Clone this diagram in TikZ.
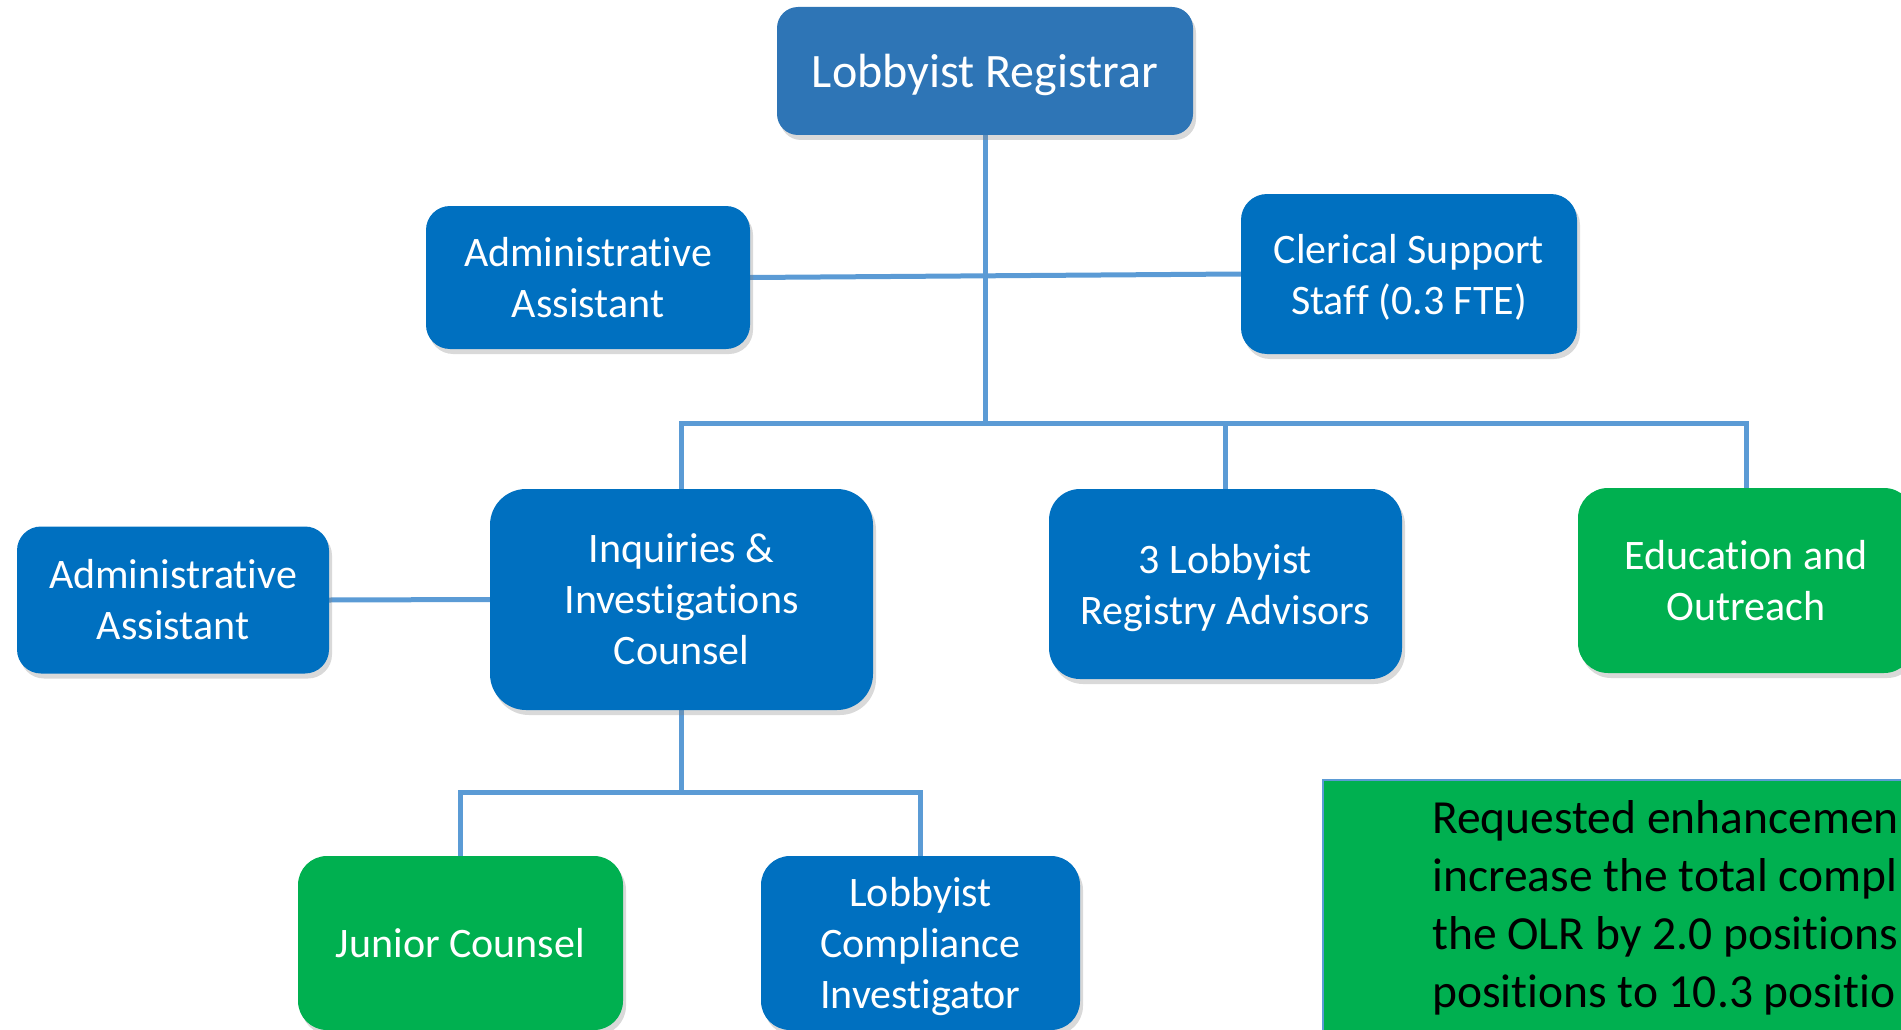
\documentclass[tikz,border=0pt]{standalone}
\usepackage{fontspec}
\setmainfont{Carlito}[RawFeature=-liga]
\usetikzlibrary{shadows,backgrounds}
\definecolor{regblue}{HTML}{2E75B6}
\definecolor{boxblue}{HTML}{0070C0}
\definecolor{boxgreen}{HTML}{00B050}
\definecolor{linkblue}{HTML}{5B9BD5}
\begin{document}
\begin{tikzpicture}[x=1pt,y=-1pt,
  orgbox/.style={text=white, align=center, inner sep=0pt,
    font=\fontsize{42}{51}\selectfont,
    drop shadow={opacity=0.3, shadow xshift=3pt, shadow yshift=-5pt}},
  bluebox/.style={orgbox, fill=boxblue},
  greenbox/.style={orgbox, fill=boxgreen},
  link/.style={draw=linkblue, line width=5pt}]
\useasboundingbox (0,0) rectangle (1901,1030);
\clip (0,0) rectangle (1901,1030);

\node[orgbox, fill=regblue, rounded corners=21pt, minimum width=416pt, minimum height=128pt,
  text depth=0pt, font=\fontsize{48}{58}\selectfont] (reg) at (985,71) {Lobbyist Registrar};
\node[bluebox, rounded corners=24pt, minimum width=324pt, minimum height=143pt] (adm1) at (588,277.5) {Administrative\\Assistant};
\node[bluebox, rounded corners=26pt, minimum width=336pt, minimum height=160pt, text depth=0pt] (cler) at (1409,274) {Clerical Support\\Staff (0.3 FTE)};
\node[bluebox, rounded corners=24pt, minimum width=312pt, minimum height=147pt] (adm2) at (173,600) {Administrative\\Assistant};
\node[bluebox, rounded corners=36pt, minimum width=383pt, minimum height=221pt] (inq) at (681.5,599.5) {Inquiries \&\\Investigations\\Counsel};
\node[bluebox, rounded corners=31pt, minimum width=353pt, minimum height=190pt, text depth=0pt] (adv) at (1225.5,584) {3 Lobbyist\\Registry Advisors};
\node[greenbox, rounded corners=30pt, minimum width=336pt, minimum height=185pt] (edu) at (1746,580.5) {Education and\\Outreach};
\node[greenbox, rounded corners=29pt, minimum width=325pt, minimum height=174pt] (jun) at (460.5,943) {Junior Counsel};
\node[bluebox, rounded corners=29pt, minimum width=319pt, minimum height=174pt, text depth=0pt] (lci) at (920.5,943) {Lobbyist\\Compliance\\Investigator};

\node[draw=linkblue, line width=2pt, fill=boxgreen, minimum width=600pt, minimum height=270pt,
  anchor=north west, inner sep=0pt] (note) at (1322,779) {};
\node[anchor=north west, inner sep=0pt, align=left, text=black,
  font=\fontsize{47.5}{58}\selectfont] (notetext) at (1432,800)
  {Requested enhancemen\\increase the total compl\\the OLR by 2.0 positions\\positions to 10.3 positio};

\coordinate (bar1) at (985,423);
\coordinate (bar2) at (681,792);
\begin{pgfonlayer}{background}
\draw[link] (adm1.east) -- (cler.west);
\draw[link] (reg.south) -- (reg.south |- bar1);
\draw[link] (inq.north) -- (inq.north |- bar1) -- (edu.north |- bar1) -- (edu.north);
\draw[link] (adv.north) -- (adv.north |- bar1);
\draw[link] (adm2.east) -- (inq.west);
\draw[link] (inq.south) -- (inq.south |- bar2);
\draw[link] (jun.north) -- (jun.north |- bar2) -- (lci.north |- bar2) -- (lci.north);
\end{pgfonlayer}
\end{tikzpicture}
\end{document}
